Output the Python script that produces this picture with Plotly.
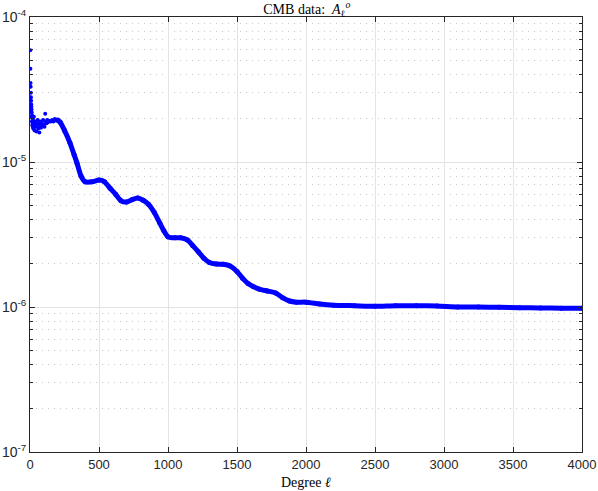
import plotly.graph_objects as go

# Early, scattered low-degree values
early_deg = [2, 3, 4, 5, 6, 7, 8, 9, 10, 11, 12, 13, 14, 15, 16, 18, 20, 22, 24, 26, 28, 30,
             33, 36, 40, 44, 48, 52, 56, 60, 64, 68, 72, 76, 80, 85, 90, 95, 100, 105, 110,
             115, 120, 125, 130, 140, 150, 160, 170, 180, 190, 200]
early_val = [5.9e-5, 4.4e-5, 3.5e-5, 3.3e-5, 3.0e-5, 2.8e-5, 2.65e-5, 2.5e-5, 2.4e-5, 2.3e-5,
             2.2e-5, 2.05e-5, 1.9e-5, 2.1e-5, 1.8e-5, 2.0e-5, 1.75e-5, 1.95e-5, 1.7e-5, 1.85e-5,
             2.05e-5, 1.8e-5, 1.65e-5, 1.9e-5, 1.75e-5, 1.85e-5, 1.62e-5, 1.8e-5, 1.95e-5,
             1.7e-5, 1.85e-5, 1.6e-5, 1.78e-5, 1.9e-5, 1.72e-5, 1.85e-5, 1.78e-5, 1.95e-5,
             1.82e-5, 1.75e-5, 2.15e-5, 1.9e-5, 1.85e-5, 1.95e-5, 1.88e-5, 1.92e-5, 1.9e-5,
             1.95e-5, 1.9e-5, 1.98e-5, 1.93e-5, 1.95e-5]

# Main band
band_deg = [200, 217, 250, 290, 320, 341, 370, 400, 450, 500, 540, 580, 620, 660, 700, 740,
            780, 820, 860, 900, 940, 970, 1000, 1050, 1090, 1140, 1180, 1220, 1260, 1300,
            1350, 1400, 1450, 1500, 1540, 1580, 1620, 1660, 1720, 1780, 1830, 1880, 1930,
            2000, 2100, 2200, 2350, 2500, 2650, 2800, 2950, 3100, 3250, 3400, 3550, 3700,
            3850, 4000]
band_val = [1.95e-5, 1.89e-5, 1.65e-5, 1.35e-5, 1.12e-5, 9.8e-6, 8.0e-6, 7.3e-6, 7.3e-6,
            7.5e-6, 7.3e-6, 6.6e-6, 6.0e-6, 5.4e-6, 5.3e-6, 5.5e-6, 5.65e-6, 5.45e-6, 5.1e-6,
            4.5e-6, 3.8e-6, 3.35e-6, 3.05e-6, 3.0e-6, 3.0e-6, 2.9e-6, 2.65e-6, 2.4e-6,
            2.17e-6, 2.03e-6, 1.98e-6, 1.97e-6, 1.92e-6, 1.76e-6, 1.58e-6, 1.45e-6, 1.38e-6,
            1.33e-6, 1.29e-6, 1.25e-6, 1.16e-6, 1.1e-6, 1.08e-6, 1.08e-6, 1.05e-6, 1.03e-6,
            1.02e-6, 1.01e-6, 1.02e-6, 1.02e-6, 1.015e-6, 1.0e-6, 1.0e-6, 0.995e-6, 0.99e-6,
            0.985e-6, 0.98e-6, 0.98e-6]

x_ticks = [0, 500, 1000, 1500, 2000, 2500, 3000, 3500, 4000]
y_ticks = [1e-7, 1e-6, 1e-5, 1e-4]
y_ticktext = ["10<sup>-7</sup>", "10<sup>-6</sup>", "10<sup>-5</sup>", "10<sup>-4</sup>"]
y_minor = [m * 10.0 ** e for e in (-7, -6, -5) for m in range(2, 10)]

BLUE = "#0000ff"
AX = "#262626"
SERIF = "Liberation Serif, DejaVu Serif, serif"

fig = go.Figure()
fig.add_trace(go.Scatter(x=band_deg, y=band_val, mode="lines+markers",
                         line=dict(color=BLUE, width=5, shape="spline", smoothing=0.6),
                         marker=dict(color=BLUE, size=5), hoverinfo="skip", showlegend=False))
fig.add_trace(go.Scatter(x=early_deg, y=early_val, mode="markers",
                         marker=dict(color=BLUE, size=4), showlegend=False))

fig.update_layout(
    width=598, height=491,
    margin=dict(l=30, r=16, t=17, b=39),
    paper_bgcolor="white", plot_bgcolor="white",
    font=dict(family="Liberation Sans, Arial, sans-serif", size=13, color=AX),
    title=dict(text="CMB data:  <i>A</i><sub>ℓ</sub><sup><i>o</i></sup>",
               x=0.513, xanchor="center", yref="paper", y=1, yanchor="bottom",
               pad=dict(b=3),
               font=dict(family=SERIF, size=14, color="black")),
    annotations=[dict(text="Degree <i>ℓ</i>", xref="paper", yref="paper", x=0.5, y=-0.069,
                      xanchor="center", yanchor="middle", showarrow=False,
                      font=dict(family=SERIF, size=14, color="black"))],
)
fig.update_xaxes(
    range=[0, 4000], tickvals=x_ticks, ticks="inside", ticklen=5, tickcolor=AX,
    showline=True, linecolor=AX, linewidth=1, mirror="ticks", automargin=False,
    showgrid=True, gridcolor="#e3e3e3", gridwidth=1, zeroline=False,
    tickfont=dict(size=13),
)
fig.update_yaxes(
    type="log", range=[-7, -4], tickvals=y_ticks, ticktext=y_ticktext,
    ticks="inside", ticklen=5, tickcolor=AX, automargin=False,
    showline=True, linecolor=AX, linewidth=1, mirror="ticks",
    showgrid=True, gridcolor="#e3e3e3", gridwidth=1, zeroline=False,
    tickfont=dict(size=14),
    minor=dict(tickmode="array", tickvals=y_minor, ticks="inside", ticklen=3, tickcolor=AX,
               showgrid=True, gridcolor="#c8c8c8", griddash="1px,5px", gridwidth=1),
)

fig.write_html("out.html", config={"displayModeBar": False},
               post_script="document.body.style.margin='0px';")
